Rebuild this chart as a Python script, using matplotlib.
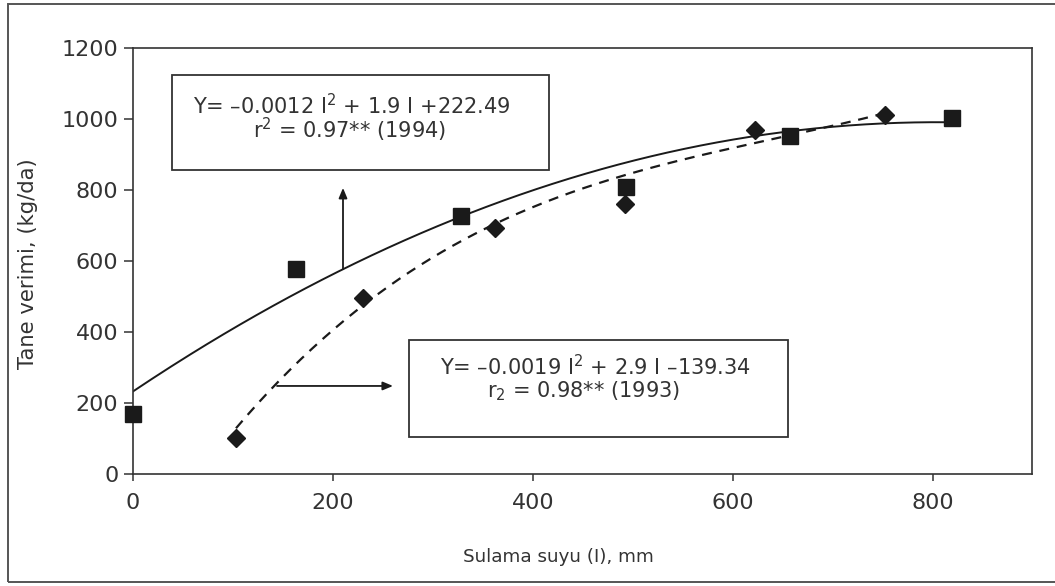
import numpy as np
import matplotlib
matplotlib.use("Agg")
import matplotlib.pyplot as plt
from matplotlib.patches import Rectangle

# ---- data ----
irr_1994 = [0, 163, 328, 493, 657, 819]
yield_1994 = [169, 577, 727, 808, 952, 1003]
irr_1993 = [103, 230, 362, 492, 622, 752]
yield_1993 = [101, 496, 693, 761, 969, 1011]

# trend curves as drawn in the reference
curve94_x = [0, 50, 103, 164, 209, 262, 328, 394, 463, 526, 595, 656, 738, 820]
curve94_y = [228, 322, 416, 512, 577, 650, 730, 797, 853, 897, 934, 958, 983, 1000]
curve93_x = [103, 140, 172, 201, 230, 272, 314, 362, 410, 457, 505, 558, 611, 660, 705, 752]
curve93_y = [120, 242, 338, 413, 488, 568, 635, 697, 750, 800, 848, 895, 938, 966, 987, 1005]

x_ticks = [0, 200, 400, 600, 800]
y_ticks = [0, 200, 400, 600, 800, 1000, 1200]
x_label = "Sulama suyu (I), mm"
y_label = "Tane verimi, (kg/da)"
eq_1994 = ["Y= \u20130.0012 I$^2$ + 1.9 I +222.49", "r$^2$ = 0.97** (1994)"]
eq_1993 = ["Y= \u20130.0019 I$^2$ + 2.9 I \u2013139.34", "r$_2$ = 0.98** (1993)"]

plt.rcParams['font.family'] = ['DejaVu Sans']
plt.rcParams['mathtext.fontset'] = 'dejavusans'
TXT = '#333333'
INK = '#1a1a1a'

fig = plt.figure(figsize=(10.55, 5.86), dpi=100)
W, H = 1055, 586
ax = fig.add_axes([133 / W, 1 - 474 / H, 899 / W, 426 / H])
ax.set_xlim(0, 899)
ax.set_ylim(0, 1200)

# outer frame
fig.patches.append(Rectangle((8 / W, 4 / H), 1.0, 578 / H, transform=fig.transFigure,
                             fill=False, lw=1.4, ec='#555555'))

# smooth trend lines through the read curve points
c94 = np.polyfit(curve94_x, curve94_y, 2)
xs94 = np.linspace(curve94_x[0], curve94_x[-1], 300)
ax.plot(xs94, np.polyval(c94, xs94), color=INK, lw=1.4, zorder=2)
c93 = np.polyfit(curve93_x, curve93_y, 3)
xs93 = np.linspace(curve93_x[0], curve93_x[-1], 300)
ax.plot(xs93, np.polyval(c93, xs93), color=INK, lw=1.6, ls=(0, (4.5, 3.5)), zorder=2)

ax.plot(irr_1994, yield_1994, ls='none', marker='s', ms=12, color=INK, clip_on=False, zorder=3)
ax.plot(irr_1993, yield_1993, ls='none', marker='D', ms=9, color=INK, clip_on=False, zorder=3)

# axes styling
for s in ax.spines.values():
    s.set_linewidth(1.2)
    s.set_color('#333333')
ax.set_xticks(x_ticks)
ax.set_yticks(y_ticks)
ax.tick_params(axis='y', direction='out', length=6.5, width=1.1, pad=4, labelsize=16,
               colors='#333333', labelcolor=TXT)
ax.tick_params(axis='x', direction='out', length=5, width=1.1, pad=9, labelsize=16,
               colors='#333333', labelcolor=TXT)
ax.set_xlabel(x_label, fontsize=13.2, color=TXT)
ax.set_ylabel(y_label, fontsize=15.2, color=TXT)
ax.xaxis.set_label_coords((558 - 133) / 899, (474 - 548) / 426)
ax.yaxis.set_label_coords((38 - 133) / 899, (474 - 264) / 426)

# annotation boxes
ax.add_patch(Rectangle((39, 856), 377, 268, fill=False, lw=1.3, ec='#333333', zorder=4))
ax.text(219, 1013, eq_1994[0], ha='center', va='baseline', fontsize=15, color=TXT)
ax.text(217, 945, eq_1994[1], ha='center', va='baseline', fontsize=15, color=TXT)
ax.add_patch(Rectangle((276, 104), 379, 273, fill=False, lw=1.3, ec='#333333', zorder=4))
ax.text(462, 278, eq_1993[0], ha='center', va='baseline', fontsize=15, color=TXT)
ax.text(451, 216, eq_1993[1], ha='center', va='baseline', fontsize=15, color=TXT)

# arrows
ax.annotate('', xy=(210, 806), xytext=(210, 578),
            arrowprops=dict(arrowstyle='-|>,head_length=0.6,head_width=0.25', lw=1.3,
                            color=INK, shrinkA=0, shrinkB=0))
ax.annotate('', xy=(260, 248), xytext=(144, 248),
            arrowprops=dict(arrowstyle='-|>,head_length=0.6,head_width=0.25', lw=1.3,
                            color=INK, shrinkA=0, shrinkB=0))

fig.savefig('out.png', dpi=100)
